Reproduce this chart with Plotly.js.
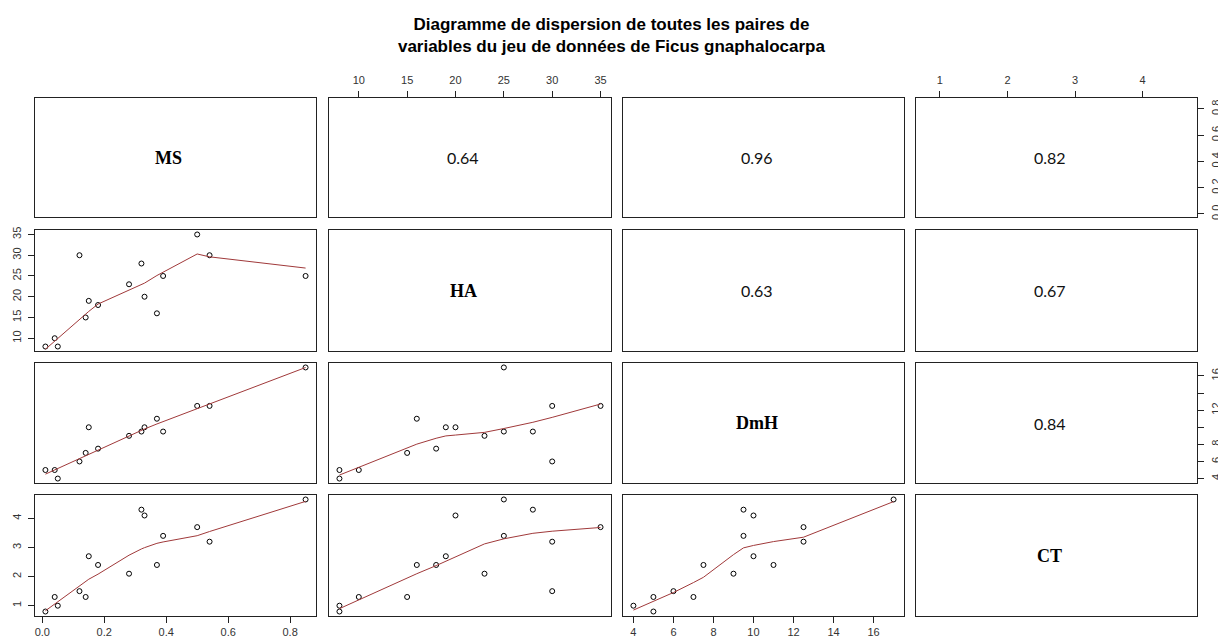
<!DOCTYPE html>
<html><head><meta charset="utf-8">
<script src="https://cdn.plot.ly/plotly-3.0.1.min.js"></script>
<style>html,body{margin:0;padding:0;background:#fff}#chart{width:1218px;height:639px}</style>
</head><body><div id="chart"></div>
<script>
// ---- data ----
const varNames = ["MS", "HA", "DmH", "CT"];
const MS  = [0.01, 0.04, 0.05, 0.12, 0.14, 0.15, 0.18, 0.28, 0.32, 0.33, 0.37, 0.39, 0.50, 0.54, 0.85];
const HA  = [8, 10, 8, 30, 15, 19, 18, 23, 28, 20, 16, 25, 35, 30, 25];
const DmH = [5, 5, 4, 6, 7, 10, 7.5, 9, 9.5, 10, 11, 9.5, 12.5, 12.5, 17];
const CT  = [0.8, 1.3, 1.0, 1.5, 1.3, 2.7, 2.4, 2.1, 4.3, 4.1, 2.4, 3.4, 3.7, 3.2, 4.65];
// correlation labels of the upper panels, row by row
const corLabels = ["0.64", "0.96", "0.82", "0.63", "0.67", "0.84"];
// tick values / labels
const msTicks = [0, 0.2, 0.4, 0.6, 0.8];
const msTickText = ["0.0", "0.2", "0.4", "0.6", "0.8"];
const haTicks = [10, 15, 20, 25, 30, 35];
const haTickText = ["10", "15", "20", "25", "30", "35"];
const dmhTicks = [4, 6, 8, 10, 12, 14, 16];
const dmhTickTextBottom = ["4", "6", "8", "10", "12", "14", "16"];
const dmhTickTextRight = ["4", "6", "8", "", "12", "", "16"];
const ctTicks = [1, 2, 3, 4];
const ctTickText = ["1", "2", "3", "4"];
const titleText = "Diagramme de dispersion de toutes les paires de<br>variables du jeu de données de Ficus gnaphalocarpa";

const dataVars = [MS, HA, DmH, CT];

// ---- R lowess (clowess port) ----
function lowess(xIn, yIn, f, nsteps) {
  const order = xIn.map((v, i) => i).sort((a, b) => (xIn[a] - xIn[b]) || (a - b));
  const n = order.length;
  const x = [0], y = [0];
  order.forEach(i => { x.push(xIn[i]); y.push(yIn[i]); });
  const ys = new Array(n + 1).fill(0), rw = new Array(n + 1).fill(0), res = new Array(n + 1).fill(0);
  const delta = 0.01 * (x[n] - x[1]);
  const ns = Math.max(2, Math.min(n, Math.floor(f * n + 1e-7)));
  function lowest(xs, nleft, nright, userw) {
    const range = x[n] - x[1];
    const h = Math.max(xs - x[nleft], x[nright] - xs);
    const h9 = 0.999 * h, h1 = 0.001 * h;
    const w = res;
    let a = 0, j = nleft;
    while (j <= n) {
      w[j] = 0;
      const r = Math.abs(x[j] - xs);
      if (r <= h9) {
        if (r <= h1) w[j] = 1;
        else { const q = r / h; w[j] = Math.pow(1 - q * q * q, 3); }
        if (userw) w[j] *= rw[j];
        a += w[j];
      } else if (x[j] > xs) break;
      j++;
    }
    const nrt = j - 1;
    if (a <= 0) return { ok: false };
    for (j = nleft; j <= nrt; j++) w[j] /= a;
    if (h > 0) {
      a = 0;
      for (j = nleft; j <= nrt; j++) a += w[j] * x[j];
      let b = xs - a, c = 0;
      for (j = nleft; j <= nrt; j++) c += w[j] * (x[j] - a) * (x[j] - a);
      if (Math.sqrt(c) > 0.001 * range) {
        b /= c;
        for (j = nleft; j <= nrt; j++) w[j] *= (b * (x[j] - a) + 1);
      }
    }
    let yv = 0;
    for (j = nleft; j <= nrt; j++) yv += w[j] * y[j];
    return { ok: true, ys: yv };
  }
  let iter = 1;
  while (iter <= nsteps + 1) {
    let nleft = 1, nright = ns, last = 0, i = 1;
    for (;;) {
      if (nright < n) {
        const d1 = x[i] - x[nleft], d2 = x[nright + 1] - x[i];
        if (d1 > d2) { nleft++; nright++; continue; }
      }
      const r = lowest(x[i], nleft, nright, iter > 1);
      ys[i] = r.ok ? r.ys : y[i];
      if (last < i - 1) {
        const denom = x[i] - x[last];
        for (let j = last + 1; j < i; j++) {
          const alpha = (x[j] - x[last]) / denom;
          ys[j] = alpha * ys[i] + (1 - alpha) * ys[last];
        }
      }
      last = i;
      const cut = x[last] + delta;
      for (i = last + 1; i <= n; i++) {
        if (x[i] > cut) break;
        if (x[i] === x[last]) { ys[i] = ys[last]; last = i; }
      }
      i = Math.max(last + 1, i - 1);
      if (last >= n) break;
    }
    for (let k = 1; k <= n; k++) res[k] = y[k] - ys[k];
    let sc = 0;
    for (let k = 1; k <= n; k++) sc += Math.abs(res[k]);
    sc /= n;
    if (iter > nsteps) break;
    const ar = [];
    for (let k = 1; k <= n; k++) ar.push(Math.abs(res[k]));
    ar.sort((a, b) => a - b);
    const m1 = Math.floor(n / 2);
    let cmad;
    if (n % 2 === 0) { const m2 = n - m1 - 1; cmad = 3 * (ar[m1] + ar[m2]); }
    else cmad = 6 * ar[m1];
    if (cmad < 1e-7 * sc) break;
    const c9 = 0.999 * cmad, c1 = 0.001 * cmad;
    for (let k = 1; k <= n; k++) {
      const r = Math.abs(res[k]);
      rw[k] = r <= c1 ? 1 : (r <= c9 ? Math.pow(1 - (r / cmad) * (r / cmad), 2) : 0);
    }
    iter++;
  }
  return { x: x.slice(1), y: ys.slice(1) };
}

// ---- layout geometry (pixels) ----
const W = 1218, H = 639;
const colPx = [[35, 316], [329, 611], [623, 904], [916, 1197]];
const rowPx = [[98, 217], [230, 351], [363, 483], [495, 616]];

function extRange(arr) {
  const mn = Math.min(...arr), mx = Math.max(...arr), d = mx - mn;
  return [mn - 0.04 * d, mx + 0.04 * d];
}
const ranges = dataVars.map(extRange);

const tickFont = { family: "Liberation Sans, Arial, sans-serif", size: 11, color: "#333" };
const tickSpec = [
  { vals: msTicks, text: msTickText },
  { vals: haTicks, text: haTickText },
  { vals: dmhTicks, text: dmhTickTextBottom },
  { vals: ctTicks, text: ctTickText }
];
const standoff = { top: 3, bottom: 0, left: 3, right: 3 };

const layout = {
  width: W, height: H,
  margin: { l: 0, r: 0, t: 0, b: 0 },
  paper_bgcolor: "#fff", plot_bgcolor: "#fff",
  showlegend: false,
  title: {
    text: titleText,
    font: { family: "Liberation Sans, Arial, sans-serif", size: 17, color: "#000", weight: "bold" },
    x: 0.502, xanchor: "center", xref: "paper",
    y: 1 - 30 / H, yanchor: "top", yref: "container"
  },
  annotations: []
};
const traces = [];

function sfx(k) { return k === 0 ? "" : String(k + 1); }

let corIdx = 0;
for (let r = 0; r < 4; r++) {
  for (let c = 0; c < 4; c++) {
    const k = r * 4 + c, s = sfx(k);
    const xa = {
      domain: [colPx[c][0] / W, colPx[c][1] / W], range: ranges[c],
      anchor: "y" + s, showgrid: false, zeroline: false,
      showline: true, mirror: true, linecolor: "#222", linewidth: 1,
      ticks: "", showticklabels: false, fixedrange: true, automargin: false
    };
    const ya = {
      domain: [1 - rowPx[r][1] / H, 1 - rowPx[r][0] / H], range: ranges[r],
      anchor: "x" + s, showgrid: false, zeroline: false,
      showline: true, mirror: true, linecolor: "#222", linewidth: 1,
      ticks: "", showticklabels: false, fixedrange: true, automargin: false
    };
    const addX = (side, spec) => Object.assign(xa, {
      side: side, ticks: "outside", ticklen: 6, tickcolor: "#222", tickwidth: 1,
      showticklabels: true, tickmode: "array", tickvals: spec.vals, ticktext: spec.text,
      tickfont: tickFont, ticklabelstandoff: standoff[side]
    });
    const addY = (side, spec) => Object.assign(ya, {
      side: side, ticks: "outside", ticklen: 6, tickcolor: "#222", tickwidth: 1,
      showticklabels: true, tickmode: "array", tickvals: spec.vals, ticktext: spec.text,
      tickfont: tickFont, tickangle: -90, ticklabelstandoff: standoff[side]
    });
    if (r === 0 && c % 2 === 1) addX("top", tickSpec[c]);
    if (r === 3 && c % 2 === 0) addX("bottom", tickSpec[c]);
    if (c === 0 && r % 2 === 1) addY("left", tickSpec[r]);
    if (c === 3 && r % 2 === 0) {
      const spec = r === 2 ? { vals: dmhTicks, text: dmhTickTextRight } : tickSpec[r];
      addY("right", spec);
    }
    layout["xaxis" + s] = xa;
    layout["yaxis" + s] = ya;

    if (r <= c) {
      // empty trace so the panel (frame + axes) is drawn
      traces.push({ type: "scatter", mode: "markers", x: [], y: [], xaxis: "x" + s, yaxis: "y" + s, hoverinfo: "skip" });
      layout.annotations.push({
        text: r === c ? varNames[r] : corLabels[corIdx++],
        xref: "x" + s + " domain", yref: "y" + s + " domain",
        x: 0.5, y: 0.5, xanchor: "center", yanchor: "middle", showarrow: false, xshift: -7,
        font: r === c
          ? { family: "Liberation Serif, Times New Roman, serif", size: 18, color: "#000", weight: "bold" }
          : { family: "Lato, Open Sans, sans-serif", size: 16, color: "#111" }
      });
    } else {
      const xv = dataVars[c], yv = dataVars[r];
      traces.push({
        type: "scatter", mode: "markers", x: xv, y: yv, xaxis: "x" + s, yaxis: "y" + s,
        marker: { symbol: "circle-open", size: 5, color: "#000", line: { width: 1, color: "#000" } },
        hoverinfo: "skip", cliponaxis: false
      });
      const lw = lowess(xv, yv, 2 / 3, 3);
      traces.push({
        type: "scatter", mode: "lines", x: lw.x, y: lw.y, xaxis: "x" + s, yaxis: "y" + s,
        line: { color: "#a0393a", width: 1 }, hoverinfo: "skip"
      });
    }
  }
}

Plotly.newPlot("chart", traces, layout, { staticPlot: true, displayModeBar: false });
</script>
</body></html>
